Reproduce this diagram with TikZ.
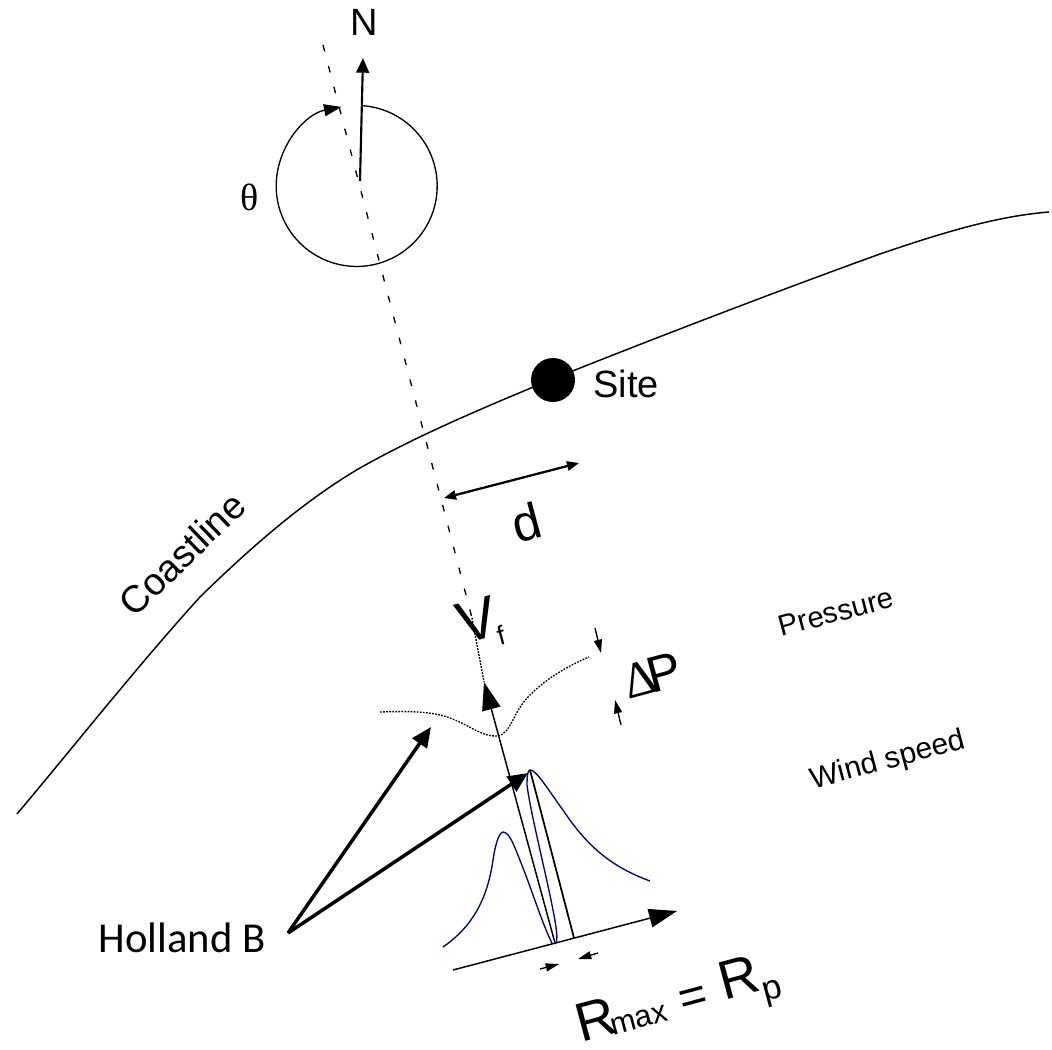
\documentclass[tikz,border=0pt]{standalone}
\usepackage{fontspec}
\setmainfont{Liberation Sans}
\newfontfamily\serifgreek{Liberation Serif}
\newfontfamily\calib{Carlito}
\usetikzlibrary{arrows.meta}
\tikzset{
  x=0.75pt,y=-0.75pt,
  lbl/.style={inner sep=0pt,text=black},
  thin line/.style={draw=black,line width=1.1pt},
  holland/.style={draw=black,line width=2.6pt,-{Triangle[length=15pt,width=13pt]}},
  small arrow/.style={draw=black,line width=1pt,-{Triangle[length=10pt,width=6pt]}},
  big arrow/.style={draw=black,line width=1.1pt,-{Triangle[length=21pt,width=14pt]}},
  blue curve/.style={draw=blue!50!black,line width=1pt},
  dotted curve/.style={draw=black,line width=1pt,dash pattern=on 1.3pt off 1pt},
}
\begin{document}
\begin{tikzpicture}
\useasboundingbox (0,0) rectangle (1052,1049);
% named points
\coordinate (trackTop) at (323,45);
\coordinate (trackEnd) at (472,618);
\coordinate (dotTop) at (472,618);
\coordinate (vfTip) at (484,682);
\coordinate (vfBase) at (555,943);
\coordinate (northBase) at (360,181);
\coordinate (northTip) at (363,58);
\coordinate (arcStart) at (363,105.7);
\coordinate (peak) at (530,770);
\coordinate (peakTip) at (528,773);
\coordinate (peakFoot) at (574,938);
\coordinate (axisStart) at (453,970);
\coordinate (axisTip) at (677,911);
% coastline
\draw[thin line] (17,814) .. controls (75,745) and (140,663) .. (200,597)
  .. controls (250,548) and (305,500) .. (360,468)
  .. controls (420,434) and (490,405) .. (555,378)
  .. controls (650,340) and (780,290) .. (880,254)
  .. controls (950,230) and (1000,216) .. (1049,212);
% track
\draw[draw=black,line width=1pt,dash pattern=on 5pt off 11.2pt] (trackTop) -- (trackEnd);
\draw[dotted curve] (dotTop) -- (vfTip);
% theta circle
\draw[draw=black,line width=1pt,-{Triangle[length=13pt,width=9pt]}]
  (arcStart) arc[start angle=-85.5,end angle=259,radius=80.5];
% north
\draw[draw=black,line width=1.6pt,-{Triangle[length=11pt,width=9.5pt]}] (northBase) -- (northTip);
\node[lbl,font=\fontsize{28.5}{28.5}\selectfont] (north) at (364,22) {N};
\node[lbl,font=\serifgreek\fontsize{28.5}{28.5}\selectfont] (theta) at (250,197) {θ};
% site
\node[circle,fill=black,inner sep=0pt,minimum width=33pt,minimum height=31pt] (site) at (553,380) {};
\node[lbl,font=\fontsize{28.5}{28.5}\selectfont] (siteLabel) at (626,384) {Site};
% coastline label
\node[lbl,rotate=44,font=\fontsize{28.5}{28.5}\selectfont] (coast) at (182,554) {Coastline};
% distance
\coordinate (dL) at (444,498);
\coordinate (dR) at (579,463);
\draw[draw=black,line width=1.7pt,{Triangle[length=9pt,width=7pt]}-{Triangle[length=9pt,width=7pt]}] (dL) -- (dR);
\node[lbl,rotate=15,font=\fontsize{38}{38}\selectfont] (d) at (526,522) {d};
% Vf
\node[lbl,rotate=15,font=\fontsize{44}{44}\selectfont] (V) at (477,620) {V};
\node[lbl,rotate=15,font=\fontsize{20}{20}\selectfont] (f) at (501,635) {f};
\draw[big arrow] (vfBase) -- (vfTip);
% pressure curve
\draw[dotted curve] (380,712) .. controls (410,711) and (435,711) .. (455,720)
  .. controls (470,726) and (483,737) .. (497,736)
  .. controls (512,734) and (512,712) .. (530,695)
  .. controls (545,680) and (565,667) .. (589,657);
\node[lbl,rotate=15,font=\fontsize{22}{22}\selectfont] (pressure) at (836,612) {Pressure};
\node[lbl,rotate=15,font=\fontsize{22.5}{22.5}\selectfont] (wind) at (888,761) {Wind speed};
% delta P
\coordinate (dpTopA) at (595,628);
\coordinate (dpTopB) at (601,653);
\coordinate (dpBotA) at (621,725);
\coordinate (dpBotB) at (615,700);
\draw[small arrow] (dpTopA) -- (dpTopB);
\draw[small arrow] (dpBotA) -- (dpBotB);
\node[lbl,rotate=15,font=\fontsize{38}{38}\selectfont] (dP) at (652,675) {\serifgreek Δ\kern-6pt\fontspec{Liberation Sans}P};
% wind curves
\draw[blue curve] (443,947) .. controls (475,925) and (488,895) .. (493,860)
  .. controls (496,840) and (500,832) .. (503,832)
  .. controls (510,832) and (515,848) .. (525,873)
  .. controls (535,900) and (545,930) .. (552,943);
\draw[blue curve] (555,944) .. controls (559,942) and (556,925) .. (552,905)
  .. controls (545,870) and (530,810) .. (527,785)
  .. controls (527,775) and (528,770) .. (530,770)
  .. controls (536,770) and (545,785) .. (565,813)
  .. controls (590,850) and (615,868) .. (650,881);
\draw[draw=black,line width=1.3pt] (peak) -- (peakFoot);
% axis
\draw[big arrow] (axisStart) -- (axisTip);
\coordinate (rA) at (540,969);
\coordinate (rB) at (559,964);
\coordinate (rC) at (598,953);
\coordinate (rD) at (578,959);
\draw[small arrow] (rA) -- (rB);
\draw[small arrow] (rC) -- (rD);
% Holland B
\node[lbl,font=\calib\fontsize{32}{32}\selectfont] (holland) at (182,938) {Holland B};
\coordinate (hB) at (288,933);
\coordinate (hA) at (431,727);
\draw[holland] (hB) -- (hA);
\draw[holland] (hB) -- (peakTip);
% Rmax = Rp
\node[lbl,rotate=15,font=\fontsize{41}{41}\selectfont] (rmax) at (678,1003) {R\kern-5pt{\fontsize{23}{23}\selectfont\raisebox{-1pt}{max}} {\fontsize{36}{36}\selectfont =} \raisebox{3pt}{R}{\fontsize{26}{26}\selectfont\raisebox{-6pt}{p}}};
\end{tikzpicture}
\end{document}
